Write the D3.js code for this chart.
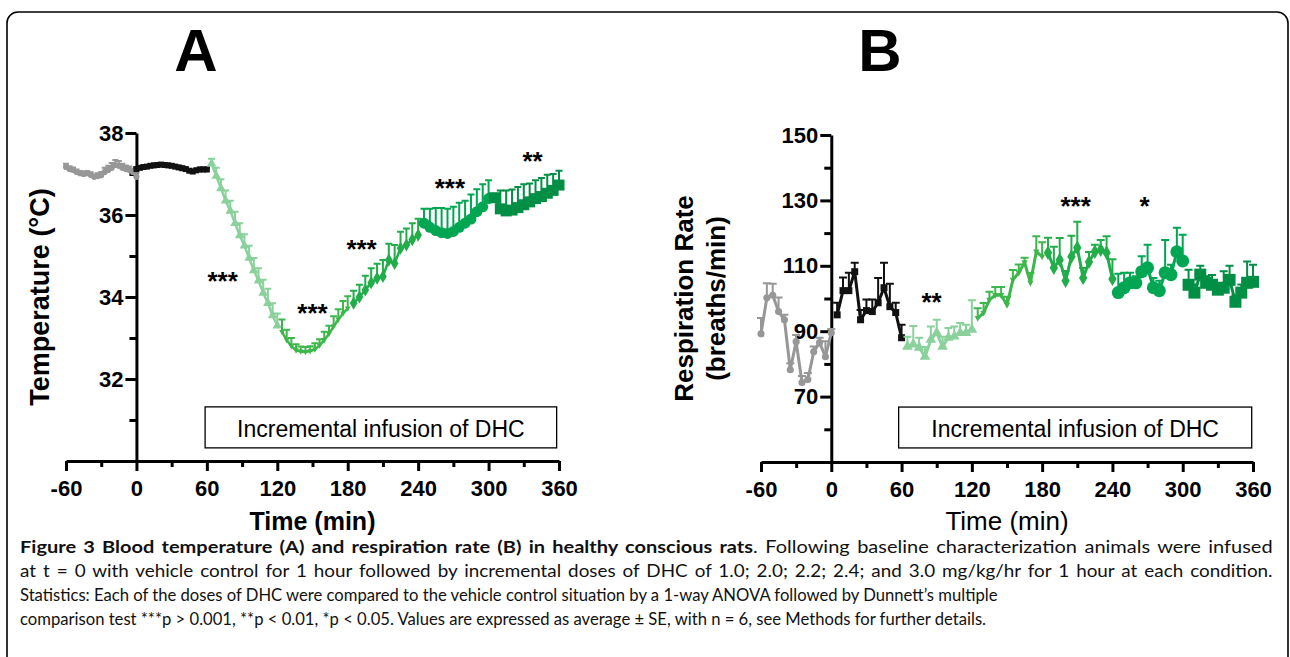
<!DOCTYPE html>
<html>
<head>
<meta charset="utf-8">
<script src="https://cdn.jsdelivr.net/npm/d3@7"></script>
<style>
  body { margin: 0; background: #fff; }
  svg text { font-family: "Liberation Sans", Arial, sans-serif; }
  svg text.caption { font-family: Lato, "Liberation Sans", sans-serif; }
</style>
</head>
<body>
<svg id="chart" width="1290" height="657"></svg>
<script>
// axis ticks
const timeTicks = [-60, 0, 60, 120, 180, 240, 300, 360];
const timeMinor = [-30, 30, 90, 150, 210, 270, 330];
const tempTicks = [32, 34, 36, 38];
const tempMinor = [31, 33, 35, 37];
const respTicks = [70, 90, 110, 130, 150];
const respMinor = [60, 80, 100, 120, 140];

// panel A: blood temperature [min, degC, SE]
const tempBaseline = [[-60,37.17,0.08],[-57,37.12,0.07],[-54,37.1,0.06],[-51,37.05,0.06],[-48,37.02,0.05],[-45,37.0,0.06],[-42,37.02,0.05],[-39,36.98,0.06],[-36,36.93,0.06],[-33,36.95,0.07],[-30,36.97,0.08],[-27,37.05,0.1],[-24,37.1,0.1],[-21,37.15,0.12],[-18,37.22,0.12],[-15,37.2,0.12],[-12,37.15,0.1],[-9,37.12,0.09],[-6,37.1,0.08],[-3,37.05,0.08],[0,36.93,0.1]];
const tempVehicle = [[0,37.12,0.04],[3,37.15,0.04],[6,37.17,0.04],[9,37.18,0.04],[12,37.2,0.04],[15,37.21,0.04],[18,37.22,0.04],[21,37.23,0.04],[24,37.22,0.04],[27,37.21,0.04],[30,37.2,0.04],[33,37.18,0.04],[36,37.16,0.04],[39,37.14,0.04],[42,37.12,0.04],[45,37.08,0.04],[48,37.06,0.04],[51,37.09,0.04],[54,37.11,0.04],[57,37.11,0.04],[60,37.11,0.04]];
const tempDose1 = [[64,37.25,0.12],[68,36.95,0.2],[72,36.65,0.22],[76,36.35,0.25],[80,36.1,0.25],[84,35.8,0.28],[88,35.5,0.3],[92,35.25,0.28],[96,34.95,0.3],[100,34.65,0.3],[104,34.4,0.3],[108,34.1,0.32],[112,33.85,0.35],[116,33.55,0.3],[120,33.3,0.3]];
const tempDose2 = [[124,33.15,0.3],[128,32.95,0.25],[132,32.8,0.2],[136,32.7,0.15],[140,32.67,0.12],[144,32.66,0.12],[148,32.68,0.12],[152,32.72,0.15],[156,32.82,0.15],[160,32.95,0.2],[164,33.1,0.2],[168,33.28,0.25],[172,33.45,0.25],[176,33.6,0.3],[180,33.72,0.3]];
const tempDose3 = [[185,33.85,0.3],[190,34.0,0.3],[195,34.17,0.35],[200,34.35,0.35],[205,34.46,0.35],[210,34.5,0.4],[215,34.9,0.4],[220,34.82,0.45],[225,35.19,0.4],[230,35.27,0.4],[235,35.4,0.4],[240,35.51,0.4]];
const tempDose4 = [[245,35.8,0.35],[250,35.7,0.45],[255,35.62,0.55],[260,35.57,0.6],[265,35.55,0.6],[270,35.6,0.6],[275,35.7,0.6],[280,35.8,0.55],[285,35.9,0.6],[290,36.08,0.55],[295,36.2,0.55],[300,36.4,0.45]];
const tempDose5 = [[305,36.42,0.1],[310,36.15,0.45],[315,36.1,0.5],[320,36.12,0.5],[325,36.18,0.5],[330,36.25,0.5],[335,36.32,0.45],[340,36.4,0.45],[345,36.45,0.45],[350,36.53,0.45],[355,36.6,0.4],[360,36.73,0.35]];
const tempStars = [[73.4,34.17,"***"],[150,33.39,"***"],[191.8,34.95,"***"],[267,36.44,"***"],[337.5,37.1,"**"]];

// panel B: respiration rate [min, breaths/min, SE]
const respBaseline = [[-60,89.2,4.8],[-55,100.2,4.5],[-50,101,3.5],[-45,96,4.3],[-40,93.5,1.5],[-35,78.2,2],[-30,86.8,2],[-25,74.3,2],[-20,75.2,2],[-15,83.7,1.6],[-10,86.5,1.5],[-5,82.2,4.7],[0,89.5,1.2]];
const respVehicle = [[5,95,3.7],[10,102.4,4],[15,102.4,5.5],[20,108.2,2.7],[25,93.5,3],[30,96.3,3.4],[35,96,3.7],[40,98.7,7.6],[45,103.3,7.6],[50,97.5,7],[55,95.7,3],[60,88,4]];
const respDose1 = [[65,85.3,3],[70,86,5.6],[75,85,3],[80,82.2,3],[85,87.4,4],[90,89.5,4],[95,85.3,3],[100,88,3],[105,88.4,3],[110,89.5,3],[115,89.5,2.5],[120,90.5,9]];
const respDose2 = [[125,94,3],[130,95.6,3],[135,99.6,2.5],[140,101,2.5],[145,101,2.5],[150,98,2.5],[155,105.7,3],[160,107.9,2.5],[165,111,1.5],[170,104.8,3],[175,114.3,4.7],[180,112.8,4.4]];
const respDose3 = [[185,114,4.6],[190,109.4,6.4],[195,111.8,6.7],[200,105.4,3],[205,112.8,6.4],[210,115.5,8],[215,106.3,3],[220,111.2,3],[225,114.3,2.1],[230,114.9,3],[235,114,5],[240,106,6]];
const respDose4 = [[245,101.8,5.8],[250,103.3,4.6],[255,104.8,3.1],[260,104.8,2],[265,108.2,4.7],[270,109.4,7],[275,103.3,3],[280,102.4,3],[285,107.9,10],[290,107.3,3],[295,114.3,7.3],[300,111.5,8]];
const respDose5 = [[305,104.2,4.6],[310,101.8,2.5],[315,107.3,2.7],[320,104.8,2],[325,104.2,3],[330,102.7,2],[335,103.3,5],[340,105.7,4.3],[345,99,2],[350,101.8,2.5],[355,104.8,6.5],[360,105.1,5.2]];
const respStars = [[85.6,96.2,"**"],[208.6,125.5,"***"],[267.4,125.5,"*"]];

const infusionLabel = "Incremental infusion of DHC";
const captionBold = "Figure 3 Blood temperature (A) and respiration rate (B) in healthy conscious rats";
const captionLines = [
  ". Following baseline characterization animals were infused",
  "at t = 0 with vehicle control for 1 hour followed by incremental doses of DHC of 1.0; 2.0; 2.2; 2.4; and 3.0 mg/kg/hr for 1 hour at each condition.",
  "Statistics: Each of the doses of DHC were compared to the vehicle control situation by a 1-way ANOVA followed by Dunnett\u2019s multiple",
  "comparison test ***p > 0.001, **p < 0.01, *p < 0.05. Values are expressed as average \u00b1 SE, with n = 6, see Methods for further details."
];

const svg = d3.select("#chart");

// frame
svg.append("rect")
  .attr("x", 7).attr("y", 12).attr("width", 1281).attr("height", 720)
  .attr("rx", 11).attr("fill", "none").attr("stroke", "#000").attr("stroke-width", 1.6);

const colors = { gray: "#979797", black: "#111111", d1: "#8ad19c", d2: "#3db64b", d3: "#22ad4b", d4: "#00a651", d5: "#008f45" };
const triDown = { draw(ctx, size) { const s = Math.sqrt(size / (Math.sqrt(3) * 0.75)); ctx.moveTo(0, s * 0.6); ctx.lineTo(s * 0.5, -s * 0.35); ctx.lineTo(-s * 0.5, -s * 0.35); ctx.closePath(); } };

function drawPanel(o) {
  const x = d3.scaleLinear().domain([-60, 360]).range(o.xr);
  const y = d3.scaleLinear().domain(o.yd).range(o.yr);
  const g = svg.append("g");

  // x axis
  g.append("g").attr("transform", `translate(0,${o.yr[0]})`)
    .call(d3.axisBottom(x).tickValues(timeTicks).tickSize(10).tickSizeOuter(0).tickPadding(9).tickFormat(d => String(d)));
  g.append("g").attr("transform", `translate(0,${o.yr[0]})`)
    .call(d3.axisBottom(x).tickValues(timeMinor).tickSize(6).tickSizeOuter(0).tickFormat(() => ""))
    .call(a => a.select(".domain").remove());

  // y axis at t = 0
  g.append("g").attr("transform", `translate(${x(0)},0)`)
    .call(d3.axisLeft(y).tickValues(o.ticks).tickSize(11).tickSizeOuter(0).tickPadding(2));
  g.append("g").attr("transform", `translate(${x(0)},0)`)
    .call(d3.axisLeft(y).tickValues(o.minor).tickSize(7).tickSizeOuter(0).tickFormat(() => ""))
    .call(a => a.select(".domain").remove());

  g.selectAll(".domain, .tick line").attr("stroke", "#000").attr("stroke-width", 3);
  g.selectAll(".tick text").attr("font-size", 22).attr("font-weight", "bold").attr("fill", "#000");

  // infusion box
  const bx0 = x(o.box[0]), bx1 = x(o.box[1]), by0 = y(o.box[2]), by1 = y(o.box[3]);
  g.append("rect").attr("x", bx0).attr("y", by0).attr("width", bx1 - bx0).attr("height", by1 - by0)
    .attr("fill", "#fff").attr("stroke", "#000").attr("stroke-width", 1.3);
  g.append("text").attr("x", (bx0 + bx1) / 2).attr("y", by0 + 30).attr("text-anchor", "middle")
    .attr("font-size", 23).text(infusionLabel);

  // series
  const line = d3.line().x(d => x(d[0])).y(d => y(d[1]));
  o.series.forEach(s => {
    const sg = g.append("g");
    sg.selectAll(".err").data(s.data).join("path")
      .attr("d", d => `M${x(d[0])},${y(d[1])}V${y(d[1] + d[2])}M${x(d[0]) - s.cap},${y(d[1] + d[2])}H${x(d[0]) + s.cap}`)
      .attr("stroke", s.color).attr("stroke-width", o.ew).attr("fill", "none");
    sg.append("path").datum(s.data).attr("d", line)
      .attr("fill", "none").attr("stroke", s.color).attr("stroke-width", o.lw).attr("stroke-linejoin", "round");
    sg.selectAll(".pt").data(s.data).join("path")
      .attr("transform", d => `translate(${x(d[0])},${y(d[1])})`)
      .attr("d", d3.symbol().type(s.type).size(s.size))
      .attr("fill", s.color);
  });

  // significance stars
  g.selectAll(".star").data(o.stars).join("text")
    .attr("x", d => x(d[0])).attr("y", d => y(d[1]))
    .attr("text-anchor", "middle").attr("font-size", 26).attr("font-weight", "bold")
    .text(d => d[2]);

  // panel letter
  g.append("text").attr("x", o.letterX).attr("y", 71).attr("text-anchor", "middle")
    .attr("font-size", 60).attr("font-weight", "bold").text(o.letter);

  // x title
  g.append("text").attr("x", (o.xr[0] + o.xr[1]) / 2).attr("y", 530).attr("text-anchor", "middle")
    .attr("font-size", o.xTitleSize).attr("font-weight", o.xTitleWeight).text("Time (min)");

  // y title
  o.yTitle.forEach((t, i) => {
    g.append("text")
      .attr("transform", `translate(${o.yTitleX[i]},${(o.yr[0] + o.yr[1]) / 2}) rotate(-90)`)
      .attr("text-anchor", "middle").attr("font-size", o.yTitleSize).attr("font-weight", "bold").text(t);
  });
}

drawPanel({
  letter: "A", letterX: 196,
  xr: [66, 559], yd: [30, 38], yr: [461, 133],
  ticks: tempTicks, minor: tempMinor,
  box: [58.5, 358, 31.32, 30.32],
  lw: 2.5, ew: 2,
  stars: tempStars,
  xTitleSize: 25, xTitleWeight: "bold",
  yTitle: ["Temperature (\u00b0C)"], yTitleX: [49], yTitleSize: 27,
  series: [
    { data: tempBaseline, color: colors.gray, type: d3.symbolCircle, size: 30, cap: 3 },
    { data: tempVehicle, color: colors.black, type: d3.symbolSquare, size: 36, cap: 3 },
    { data: tempDose1, color: colors.d1, type: d3.symbolTriangle, size: 40, cap: 3.5 },
    { data: tempDose2, color: colors.d2, type: triDown, size: 40, cap: 3.5 },
    { data: tempDose3, color: colors.d3, type: d3.symbolDiamond, size: 50, cap: 3.5 },
    { data: tempDose4, color: colors.d4, type: d3.symbolCircle, size: 95, cap: 3.5 },
    { data: tempDose5, color: colors.d5, type: d3.symbolSquare, size: 121, cap: 3.5 }
  ]
});

drawPanel({
  letter: "B", letterX: 880,
  xr: [761, 1253], yd: [50, 150], yr: [462, 135],
  ticks: respTicks, minor: respMinor,
  box: [57.5, 358.9, 66.8, 54.3],
  lw: 3, ew: 2,
  stars: respStars,
  xTitleSize: 26, xTitleWeight: "normal",
  yTitle: ["Respiration Rate", "(breaths/min)"], yTitleX: [693, 725], yTitleSize: 26,
  series: [
    { data: respBaseline, color: colors.gray, type: d3.symbolCircle, size: 40, cap: 4 },
    { data: respVehicle, color: colors.black, type: d3.symbolSquare, size: 49, cap: 4 },
    { data: respDose1, color: colors.d1, type: d3.symbolTriangle, size: 50, cap: 4 },
    { data: respDose2, color: colors.d2, type: triDown, size: 50, cap: 4 },
    { data: respDose3, color: colors.d3, type: d3.symbolDiamond, size: 60, cap: 4 },
    { data: respDose4, color: colors.d4, type: d3.symbolCircle, size: 133, cap: 4 },
    { data: respDose5, color: colors.d5, type: d3.symbolSquare, size: 144, cap: 4 }
  ]
});

// caption: common horizontal squeeze from the ragged lines 3-4; lines 1-2 justified
// with a little word spacing and, if still short, their own stretch
const capWidths = [1253, 1253, 977, 968];
const rows = captionLines.map((t, i) => {
  const row = svg.append("g");
  const txt = row.append("text").attr("class", "caption").attr("x", 0).attr("y", 0)
    .attr("font-size", 17.5).attr("fill", "#111");
  if (i === 0) txt.append("tspan").attr("font-weight", "bold").text(captionBold);
  txt.append("tspan").text(t);
  return { row, txt, full: (i === 0 ? captionBold : "") + t };
});
const sx = (capWidths[2] + capWidths[3]) /
  (rows[2].txt.node().getComputedTextLength() + rows[3].txt.node().getComputedTextLength());
rows.forEach((r, i) => {
  let s = sx;
  if (i < 2) {
    const spaces = (r.full.match(/ /g) || []).length;
    const nat = r.txt.node().getComputedTextLength();
    const ws = Math.max(0, Math.min(2, (capWidths[i] / sx - nat) / spaces));
    r.txt.attr("word-spacing", ws);
    s = capWidths[i] / (nat + ws * spaces);
  }
  r.row.attr("transform", `translate(20,${553 + i * 24}) scale(${s},1)`);
});
</script>
</body>
</html>
